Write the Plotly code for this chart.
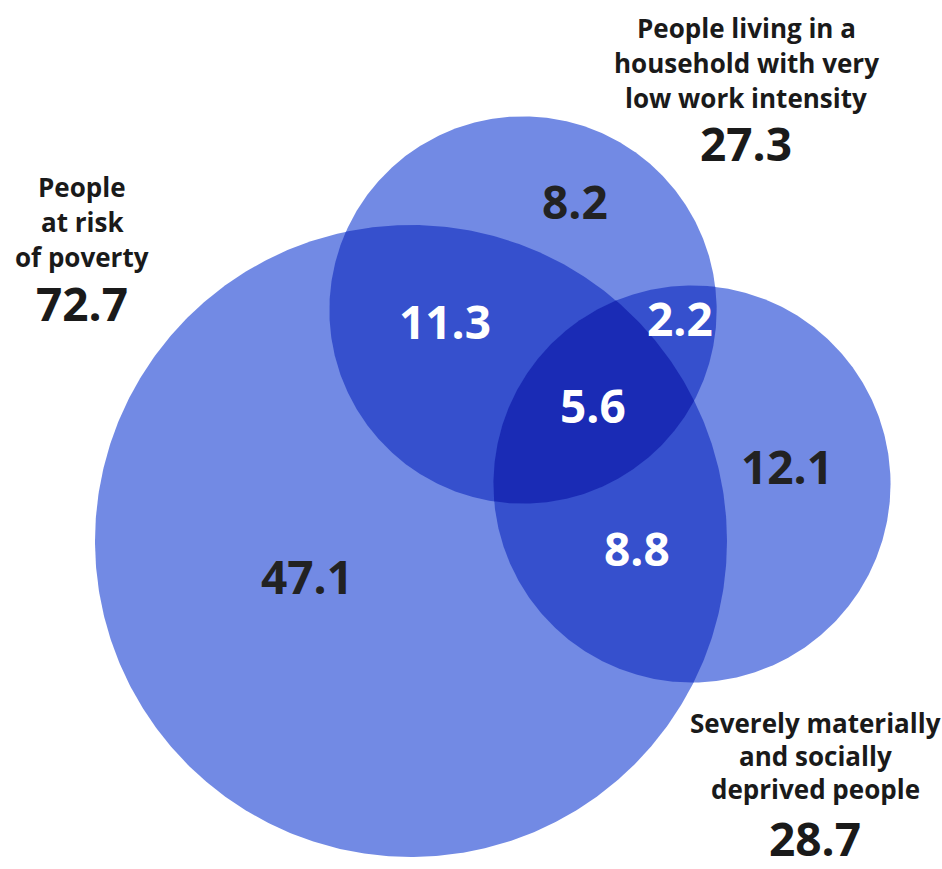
import numpy as np
import plotly.graph_objects as go

# Group totals (millions of people)
set_names = ["People at risk of poverty",
             "People living in a household with very low work intensity",
             "Severely materially and socially deprived people"]
set_totals = [72.7, 27.3, 28.7]

# Label lines for each group
label_lines = [["People", "at risk", "of poverty"],
               ["People living in a", "household with very", "low work intensity"],
               ["Severely materially", "and socially", "deprived people"]]

# Region values (exclusive parts of the diagram)
region_keys = ["A", "B", "C", "AB", "AC", "BC", "ABC"]
region_values = [47.1, 8.2, 12.1, 11.3, 8.8, 2.2, 5.6]

# ---- layout geometry (pixel space) ----
W, H = 942, 869
centers = [(411, 541), (523, 310), (692, 484)]
scale = 316 / np.sqrt(set_totals[0])           # area-proportional circles
radii = [scale * np.sqrt(t) for t in set_totals]

LIGHT = "#728AE4"
MID = "#3650CD"
DARK = "#1A2BB5"


def circle_poly(cx, cy, r, n=720):
    t = np.linspace(0, 2 * np.pi, n, endpoint=False)
    return list(zip(cx + r * np.cos(t), cy + r * np.sin(t)))


def clip(subject, clipper):
    """Sutherland-Hodgman clipping against a convex (CCW) polygon."""
    def inside(p, a, b):
        return (b[0] - a[0]) * (p[1] - a[1]) - (b[1] - a[1]) * (p[0] - a[0]) >= 0

    def intersect(p1, p2, a, b):
        x1, y1 = p1; x2, y2 = p2; x3, y3 = a; x4, y4 = b
        den = (x1 - x2) * (y3 - y4) - (y1 - y2) * (x3 - x4)
        t = ((x1 - x3) * (y3 - y4) - (y1 - y3) * (x3 - x4)) / den
        return (x1 + t * (x2 - x1), y1 + t * (y2 - y1))

    output = subject
    n = len(clipper)
    for i in range(n):
        a, b = clipper[i], clipper[(i + 1) % n]
        inp = output
        output = []
        if not inp:
            break
        s = inp[-1]
        for e in inp:
            if inside(e, a, b):
                if not inside(s, a, b):
                    output.append(intersect(s, e, a, b))
                output.append(e)
            elif inside(s, a, b):
                output.append(intersect(s, e, a, b))
            s = e
    return output


polys = [circle_poly(cx, cy, r) for (cx, cy), r in zip(centers, radii)]

fig = go.Figure()


def add_poly(pts, color):
    xs = [p[0] for p in pts] + [pts[0][0]]
    ys = [p[1] for p in pts] + [pts[0][1]]
    fig.add_trace(go.Scatter(x=xs, y=ys, mode="lines", fill="toself",
                             fillcolor=color, line=dict(width=0, color=color),
                             hoverinfo="skip", showlegend=False))


for p in polys:
    add_poly(p, LIGHT)
for i, j in [(0, 1), (0, 2), (1, 2)]:
    add_poly(clip(polys[i], polys[j]), MID)
add_poly(clip(clip(polys[0], polys[1]), polys[2]), DARK)

# region value labels
region_pos = {"A": (307, 576), "B": (575, 201), "C": (787, 466),
              "AB": (445, 321), "AC": (637, 548), "BC": (680, 318),
              "ABC": (593, 405)}
region_dark = {"A", "B", "C"}
FONT = "Open Sans"
for key, val in zip(region_keys, region_values):
    x, y = region_pos[key]
    fig.add_annotation(x=x, y=y, text=f"{val:.1f}", showarrow=False,
                       font=dict(family=FONT, size=46, weight="bold",
                                 color="#222222" if key in region_dark else "white"))

# group labels: anchor, line spacing, offset of the total below the first line
label_anchor = [(82, 187), (746, 28), (815, 723)]
line_gaps = [35, 35, 33]
total_offset = [116, 115, 115]
for lines, total, (lx, ly), gap, off in zip(label_lines, set_totals, label_anchor,
                                            line_gaps, total_offset):
    for k, line in enumerate(lines):
        fig.add_annotation(x=lx, y=ly + k * gap, text=line, showarrow=False,
                           font=dict(family=FONT, size=26, weight="bold", color="#1a1a1a"))
    fig.add_annotation(x=lx, y=ly + off, text=f"{total:.1f}",
                       showarrow=False,
                       font=dict(family=FONT, size=46, weight="bold", color="#1a1a1a"))

fig.update_layout(width=W, height=H, margin=dict(l=0, r=0, t=0, b=0),
                  paper_bgcolor="white", plot_bgcolor="white",
                  xaxis=dict(range=[0, W], visible=False, fixedrange=True),
                  yaxis=dict(range=[H, 0], visible=False, fixedrange=True))

fig.write_html("out.html")
